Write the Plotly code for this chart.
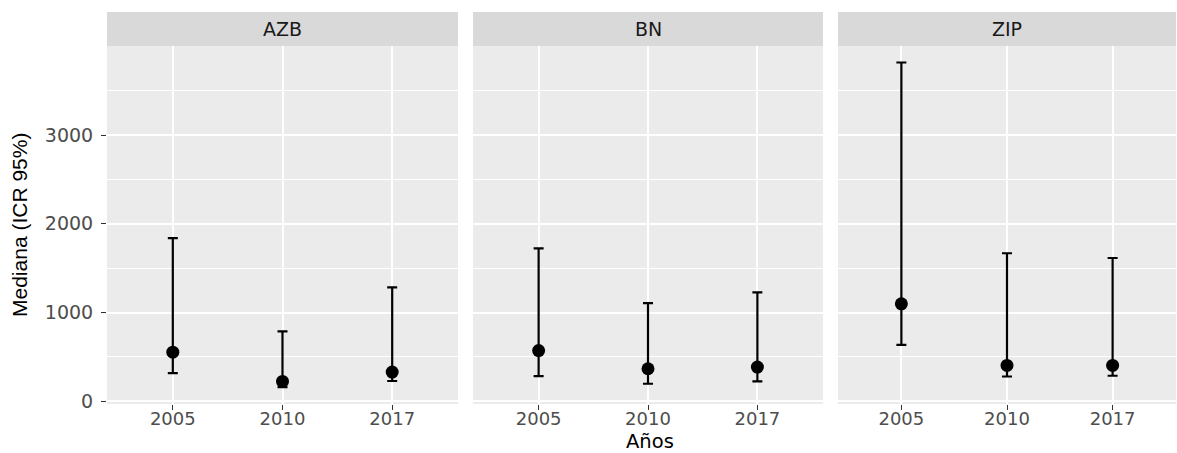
import plotly.graph_objects as go

# Medians with 95% credible intervals per model and survey year
years = ["2005", "2010", "2017"]
panels = ["AZB", "BN", "ZIP"]

median_azb = [554, 224, 330]
lower_azb = [318, 161, 229]
upper_azb = [1839, 789, 1283]

median_bn = [572, 367, 386]
lower_bn = [285, 198, 224]
upper_bn = [1724, 1107, 1227]

median_zip = [1099, 404, 404]
lower_zip = [636, 280, 288]
upper_zip = [3817, 1668, 1615]

series = [
    (median_azb, lower_azb, upper_azb),
    (median_bn, lower_bn, upper_bn),
    (median_zip, lower_zip, upper_zip),
]

W, H = 1177, 453
FONT = "DejaVu Sans"

# panel extents in pixels (left, right), shared vertical extent
px_x = [(107, 458), (473, 823), (838, 1176)]
px_top, px_bottom = 46, 404
strip_top = 12

def fx(p):
    return p / W

def fy(p):
    return 1 - p / H

fig = go.Figure()
layout = dict(
    width=W, height=H, autosize=False,
    margin=dict(l=0, r=0, t=0, b=0, pad=0, autoexpand=False),
    paper_bgcolor="white",
    plot_bgcolor="#EBEBEB",
    showlegend=False,
    shapes=[], annotations=[],
)

pos = [1, 2, 3]
for i, (name, (med, lo, hi)) in enumerate(zip(panels, series)):
    sfx = "" if i == 0 else str(i + 1)
    fig.add_trace(go.Scatter(
        x=pos, y=med, mode="markers",
        xaxis="x" + sfx, yaxis="y" + sfx,
        marker=dict(color="black", size=13),
        error_y=dict(
            type="data", symmetric=False,
            array=[h - m for h, m in zip(hi, med)],
            arrayminus=[m - l for m, l in zip(med, lo)],
            color="black", thickness=2.2, width=5,
        ),
        hoverinfo="skip",
    ))
    l, r = px_x[i]
    layout["xaxis" + sfx] = dict(
        domain=[fx(l), fx(r)], anchor="y" + sfx,
        range=[0.4, 3.6], tickvals=pos, ticktext=years,
        showgrid=True, gridcolor="white", gridwidth=1.6,
        zeroline=False, showline=False, automargin=False,
        ticks="outside", ticklen=5, tickwidth=1.2, tickcolor="#333333",
        ticklabelstandoff=-7,
        tickfont=dict(family=FONT, size=18, color="#4D4D4D"),
        fixedrange=True,
    )
    layout["yaxis" + sfx] = dict(
        domain=[fy(px_bottom), fy(px_top)], anchor="x" + sfx,
        range=[-30, 4003],
        tickvals=[0, 1000, 2000, 3000],
        showticklabels=(i == 0),
        showgrid=True, gridcolor="white", gridwidth=1.6,
        minor=dict(dtick=500, tick0=0, showgrid=True, gridcolor="white",
                   gridwidth=0.8, ticks=""),
        zeroline=False, showline=False, automargin=False,
        ticks="outside" if i == 0 else "", ticklen=5, tickwidth=1.2,
        tickcolor="#333333", ticklabelstandoff=4,
        tickfont=dict(family=FONT, size=19, color="#4D4D4D"),
        fixedrange=True,
    )
    # facet strip
    layout["shapes"].append(dict(
        type="rect", xref="paper", yref="paper",
        x0=fx(l), x1=fx(r), y0=fy(px_top), y1=fy(strip_top),
        fillcolor="#D9D9D9", line=dict(width=0), layer="below",
    ))
    layout["annotations"].append(dict(
        text=name, xref="paper", yref="paper",
        x=(fx(l) + fx(r)) / 2, y=(fy(px_top) + fy(strip_top)) / 2,
        xanchor="center", yanchor="middle", showarrow=False,
        font=dict(family=FONT, size=19, color="#1A1A1A"),
    ))

layout["annotations"].append(dict(
    text="Años", xref="paper", yref="paper",
    x=fx(650), y=fy(441), xanchor="center", yanchor="middle",
    showarrow=False, font=dict(family=FONT, size=19.5, color="black"),
))
layout["annotations"].append(dict(
    text="Mediana (ICR 95%)", xref="paper", yref="paper",
    x=fx(19), y=fy(225), xanchor="center", yanchor="middle",
    textangle=-90, showarrow=False,
    font=dict(family="Liberation Sans Narrow, Liberation Sans", size=21, color="black"),
))

fig.update_layout(**layout)
fig.write_html("out.html")
